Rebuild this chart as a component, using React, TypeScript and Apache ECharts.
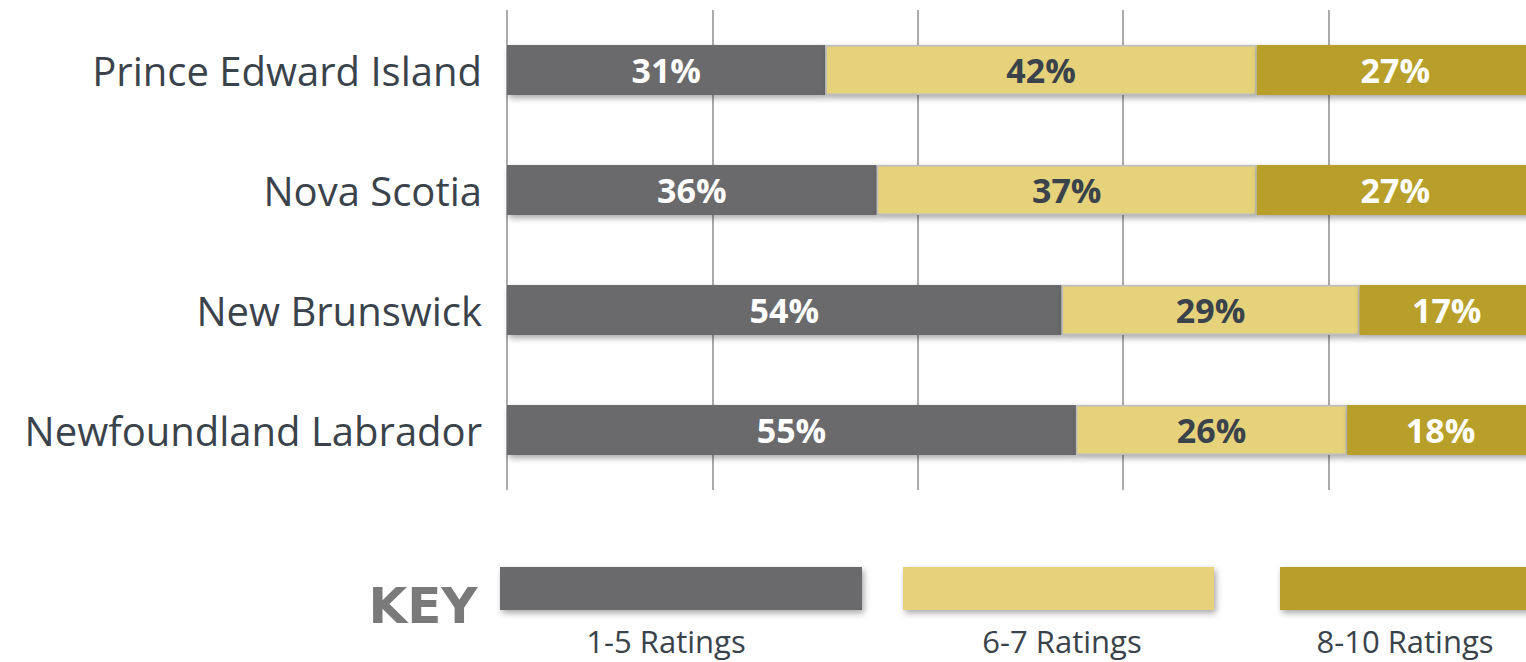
import React, { useEffect, useRef } from "react";
import * as echarts from "echarts";

const categories = ["Prince Edward Island", "Nova Scotia", "New Brunswick", "Newfoundland Labrador"];
const seriesNames = ["1-5 Ratings", "6-7 Ratings", "8-10 Ratings"];
const low = [31, 36, 54, 55.4];
const mid = [42, 37, 29, 26.4];
const high = [27, 27, 17, 18.2];

const COLORS = ["#6a6a6c", "#e5d27a", "#b89f2b"];
const FONT = "'Open Sans', 'DejaVu Sans', sans-serif";

export default function App() {
  const ref = useRef<HTMLDivElement>(null);
  useEffect(() => {
    if (!ref.current) return;
    const chart = echarts.init(ref.current, null, { renderer: "svg" });
    const values = [low, mid, high];
    const labelColors = ["#ffffff", "#3a434b", "#ffffff"];
    const shadow = {
      shadowBlur: 6,
      shadowColor: "rgba(0,0,0,0.35)",
      shadowOffsetX: 2,
      shadowOffsetY: 3,
    };
    const series = values.map((vals, i) => ({
      name: seriesNames[i],
      type: "bar",
      stack: "total",
      barWidth: 50,
      data: vals,
      itemStyle: {
        color: COLORS[i],
        borderColor: i === 1 ? "#bdbdbd" : COLORS[i],
        borderWidth: i === 1 ? 1.5 : 0,
        ...shadow,
      },
      label: {
        show: true,
        position: "inside",
        formatter: (p: any) => Math.round(p.value) + "%",
        color: labelColors[i],
        fontSize: 34,
        fontWeight: "bold",
        fontFamily: FONT,
      },
    }));

    const legendRects = [
      { x: 500, w: 362, cx: 666 },
      { x: 903, w: 311, cx: 1062 },
      { x: 1280, w: 260, cx: 1405 },
    ];
    const graphic: any[] = [
      {
        type: "text",
        x: 423,
        y: 631,
        style: {
          text: "KEY",
          fill: "#7a7a7a",
          font: "bold 50px 'DejaVu Sans', sans-serif",
          align: "center",
          verticalAlign: "bottom",
        },
      },
    ];
    legendRects.forEach((r, i) => {
      graphic.push({
        type: "rect",
        shape: { x: r.x, y: 567, width: r.w, height: 43 },
        style: {
          fill: COLORS[i],
          shadowBlur: 6,
          shadowColor: "rgba(0,0,0,0.35)",
          shadowOffsetX: 2,
          shadowOffsetY: 3,
        },
      });
      graphic.push({
        type: "text",
        x: r.cx,
        y: 656,
        style: {
          text: seriesNames[i],
          fill: "#3a434b",
          font: `31px ${FONT}`,
          align: "center",
          verticalAlign: "bottom",
        },
      });
    });

    chart.setOption({
      animation: false,
      grid: { left: 507, right: 0, top: 10, bottom: 172, containLabel: false },
      xAxis: {
        type: "value",
        min: 0,
        max: 100,
        interval: 20,
        axisLabel: { show: false },
        axisLine: { show: false },
        axisTick: { show: false },
        splitLine: { show: true, lineStyle: { color: "#ababab", width: 2 } },
      },
      yAxis: {
        type: "category",
        data: categories,
        inverse: true,
        axisLine: { show: false },
        axisTick: { show: false },
        axisLabel: {
          color: "#3a434b",
          fontSize: 40,
          fontFamily: FONT,
          margin: 25,
        },
      },
      series,
      graphic,
    });
    return () => chart.dispose();
  }, []);
  return (
    <div style={{ position: "fixed", left: 0, top: 0, width: 1526, height: 662, overflow: "hidden", background: "#fff" }}>
      <div ref={ref} style={{ position: "absolute", left: 0, top: 0, width: 1534, height: 662 }} />
    </div>
  );
}
